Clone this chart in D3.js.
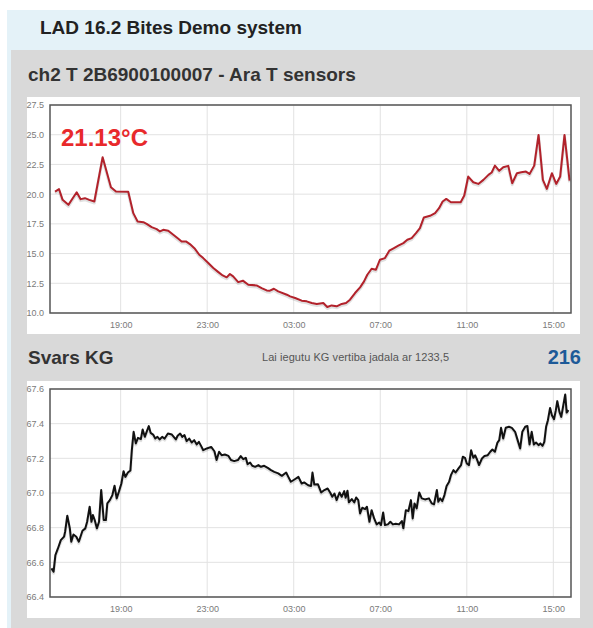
<!DOCTYPE html>
<html>
<head>
<meta charset="utf-8">
<script src="https://cdn.jsdelivr.net/npm/d3@7"></script>
<style>
  body { margin: 0; background: #fff; }
  text { font-family: "Liberation Sans", Arial, sans-serif; }
</style>
</head>
<body>
<script>
var w = 593;
var h = 628;

// ch2 temperature sensor
var tempTimes = ["15:58","16:09","16:19","16:35","16:47","16:58","17:09","17:21","17:33","17:47",
  "18:10","18:33","18:47","19:21","19:35","19:47","20:03","20:12","20:26","20:40",
  "20:49","20:58","21:12","21:26","21:40","21:49","22:01","22:12","22:26","22:38",
  "22:49","23:03","23:17","23:31","23:43","23:54","00:03","00:12","00:26","00:39",
  "00:54","01:17","01:31","01:45","01:54","02:05","02:17","02:41","02:50","03:04",
  "03:22","03:36","03:50","04:04","04:22","04:33","04:45","04:59","05:13","05:25",
  "05:36","05:50","06:04","06:15","06:24","06:36","06:48","06:59","07:13","07:25",
  "07:38","07:50","08:04","08:15","08:27","08:39","08:50","09:01","09:18","09:32",
  "09:43","09:53","10:03","10:16","10:43","10:53","11:04","11:18","11:32","11:46",
  "12:00","12:09","12:18","12:30","12:41","12:55","13:06","13:19","13:31","13:44",
  "13:54","14:07","14:19","14:31","14:42","14:56","15:08","15:19","15:31","15:45"];
var tempValues = [20.22,20.42,19.52,19.1,19.66,20.16,19.58,19.66,19.52,19.38,
  23.1,20.58,20.22,20.2,18.4,17.7,17.64,17.5,17.22,17.06,
  16.86,17.0,16.92,16.58,16.24,16.02,16.02,15.8,15.4,14.9,
  14.62,14.2,13.78,13.44,13.16,13.0,13.28,13.08,12.6,12.72,
  12.38,12.32,12.1,11.9,11.88,12.04,11.82,11.54,11.4,11.26,
  11.04,10.98,10.84,10.76,10.84,10.5,10.64,10.56,10.76,10.84,
  11.12,11.68,12.16,12.66,13.22,13.72,13.64,14.48,14.62,15.24,
  15.46,15.66,15.88,16.16,16.3,16.72,17.14,18.04,18.18,18.4,
  18.82,19.38,19.6,19.32,19.32,19.88,21.48,21.0,20.86,21.2,
  21.62,21.82,22.4,21.96,22.26,22.38,20.92,21.76,21.84,21.9,
  21.7,22.4,24.98,21.2,20.44,21.76,20.86,21.48,24.98,21.13];
var tempTicks = [10.0, 12.5, 15.0, 17.5, 20.0, 22.5, 25.0, 27.5];

// Svars KG
var kgTimes = ["15:48","15:54","15:59","16:06","16:14","16:23","16:26","16:32","16:39","16:43",
  "16:49","16:57","17:04","17:14","17:22","17:27","17:34","17:39","17:43","17:48",
  "17:54","18:00","18:06","18:13","18:19","18:23","18:30","18:37","18:43","18:49",
  "18:55","19:02","19:08","19:13","19:20","19:27","19:31","19:36","19:42","19:48",
  "19:56","20:01","20:07","20:12","20:18","20:23","20:30","20:36","20:42","20:48",
  "20:55","21:02","21:11","21:22","21:33","21:38","21:45","21:51","21:57","22:03",
  "22:10","22:17","22:24","22:31","22:37","22:43","22:49","22:59","23:11","23:20",
  "23:26","23:33","23:40","23:49","23:59","00:06","00:15","00:25","00:33","00:40",
  "00:47","00:52","00:59","01:05","01:13","01:22","01:29","01:38","01:48","01:57",
  "02:06","02:17","02:27","02:39","02:45","02:52","03:02","03:13","03:22","03:29",
  "03:40","03:48","03:52","03:57","04:07","04:16","04:25","04:34","04:41","04:47",
  "04:53","04:59","05:07","05:13","05:20","05:24","05:29","05:33","05:41","05:48",
  "05:53","05:59","06:04","06:10","06:18","06:23","06:30","06:36","06:43","06:50",
  "06:57","07:02","07:08","07:13","07:21","07:28","07:35","07:43","07:52","08:00",
  "08:04","08:11","08:18","08:25","08:30","08:35","08:41","08:48","08:55","09:04",
  "09:15","09:23","09:29","09:37","09:41","09:46","09:52","09:58","10:04","10:11",
  "10:16","10:23","10:29","10:37","10:44","10:49","10:55","11:00","11:06","11:12",
  "11:18","11:23","11:28","11:34","11:42","11:49","11:58","12:05","12:11","12:18",
  "12:25","12:30","12:35","12:41","12:48","12:57","13:05","13:14","13:21","13:28",
  "13:34","13:42","13:48","13:54","14:00","14:06","14:12","14:19","14:24","14:30",
  "14:35","14:40","14:45","14:51","14:56","15:02","15:07","15:11","15:17","15:22",
  "15:28","15:33","15:37","15:42"];
var kgValues = [66.565,66.546,66.642,66.68,66.728,66.748,66.777,66.869,66.796,66.719,
  66.761,66.748,66.719,66.782,66.796,66.834,66.921,66.834,66.873,66.844,
  66.796,66.834,67.017,66.844,66.844,66.94,66.959,66.988,67.042,66.969,
  67.007,67.055,67.126,67.093,67.118,67.13,67.247,67.353,67.286,67.318,
  67.311,67.366,67.324,67.353,67.386,67.347,67.337,67.314,67.324,67.309,
  67.324,67.314,67.343,67.337,67.309,67.33,67.343,67.324,67.334,67.299,
  67.314,67.291,67.305,67.28,67.295,67.272,67.247,67.257,67.266,67.241,
  67.19,67.238,67.218,67.222,67.214,67.19,67.184,67.19,67.213,67.195,
  67.203,67.166,67.176,67.157,67.151,67.161,67.151,67.157,67.145,67.132,
  67.122,67.113,67.099,67.118,67.093,67.065,67.078,67.093,67.055,67.061,
  67.045,67.04,67.118,67.049,67.051,67.003,67.017,67.026,67.003,66.978,
  66.997,66.959,67.003,66.978,67.011,66.972,67.013,66.946,66.965,66.946,
  66.974,66.959,66.882,66.915,66.907,66.921,66.834,66.901,66.853,66.819,
  66.83,66.815,66.888,66.815,66.819,66.834,66.819,66.823,66.819,66.838,
  66.796,66.901,66.895,66.959,66.853,66.94,66.911,67.003,66.969,66.963,
  66.969,66.94,66.934,67.017,66.949,66.969,66.953,66.988,67.04,67.065,
  67.103,67.132,67.118,67.142,67.161,67.209,67.203,67.17,67.161,67.247,
  67.203,67.218,67.195,67.161,67.199,67.213,67.218,67.238,67.251,67.238,
  67.291,67.305,67.376,67.314,67.376,67.382,67.376,67.353,67.305,67.257,
  67.353,67.382,67.387,67.28,67.353,67.28,67.291,67.276,67.286,67.272,
  67.295,67.382,67.42,67.491,67.449,67.426,67.478,67.53,67.468,67.439,
  67.51,67.568,67.464,67.478];
var kgTicks = [66.4, 66.6, 66.8, 67.0, 67.2, 67.4, 67.6];

var timeTicks = ["19:00","23:00","03:00","07:00","11:00","15:00"];
var timeStart = "15:44";
var timeEnd = "15:49";   // next day

// "HH:MM" list -> dates, next day once the clock goes back
function toDates(list) {
  var prev = -1, day = 0;
  return list.map(function(s) {
    var p = s.split(":");
    var m = +p[0] * 60 + +p[1];
    if (m < prev) { day += 1; }
    prev = m;
    return new Date(2020, 0, 1 + day, +p[0], +p[1]);
  });
}

var svg = d3.select("body")
            .append("svg")
              .attr("width", w)
              .attr("height", h);

svg.append("rect").attr("x", 7).attr("y", 10).attr("width", w - 7).attr("height", h - 10)
   .attr("fill", "#e4f2f8");
svg.append("rect").attr("x", 11).attr("y", 50).attr("width", w - 11).attr("height", h - 50)
   .attr("fill", "#d9d9d9");

svg.append("text").text("LAD 16.2 Bites Demo system")
   .attr("x", 40).attr("y", 34)
   .attr("font-size", "19px").attr("font-weight", "bold").attr("fill", "#222");

svg.append("text").text("ch2 T 2B6900100007 - Ara T sensors")
   .attr("x", 28).attr("y", 81)
   .attr("font-size", "19px").attr("font-weight", "bold").attr("fill", "#333");

svg.append("text").text("Svars KG")
   .attr("x", 28).attr("y", 364)
   .attr("font-size", "19px").attr("font-weight", "bold").attr("fill", "#333");

svg.append("text").text("Lai iegutu KG vertiba jadala ar 1233,5")
   .attr("x", 449).attr("y", 361).attr("text-anchor", "end")
   .attr("font-size", "11px").attr("fill", "#555").attr("textLength", 187);

svg.append("text").text("216")
   .attr("x", 581).attr("y", 364).attr("text-anchor", "end")
   .attr("font-size", "20px").attr("font-weight", "bold").attr("fill", "#1d5a98");

function drawChart(top, times, values, yTicks, color, yFmt) {
  var card = { x: 27, y: top, w: 553, h: 237 };
  var plot = { x0: 50, x1: 571, y0: top + 8, y1: top + 216 };

  svg.append("rect").attr("x", card.x).attr("y", card.y)
     .attr("width", card.w).attr("height", card.h).attr("fill", "#fff");

  var t0 = toDates([timeStart])[0];
  var t1 = d3.timeDay.offset(toDates([timeEnd])[0], 1);
  var x = d3.scaleTime().domain([t0, t1]).range([plot.x0, plot.x1]);
  var y = d3.scaleLinear().domain(d3.extent(yTicks)).range([plot.y1, plot.y0]);
  var tickDates = toDates(timeTicks);
  var pts = toDates(times).map(function(d, i) { return [d, values[i]]; });

  var g = svg.append("g");

  // grid
  g.selectAll(".hg").data(yTicks).enter().append("line")
    .attr("x1", plot.x0).attr("x2", plot.x1)
    .attr("y1", function(d) { return y(d); }).attr("y2", function(d) { return y(d); })
    .attr("stroke", "#e2e2e2").attr("stroke-width", 1);
  g.selectAll(".vg").data(tickDates).enter().append("line")
    .attr("x1", function(d) { return x(d); }).attr("x2", function(d) { return x(d); })
    .attr("y1", plot.y0).attr("y2", plot.y1)
    .attr("stroke", "#e2e2e2").attr("stroke-width", 1);

  // axes labels (d3 axes, domain/ticks hidden)
  var yAxis = g.append("g").attr("transform", "translate(" + (plot.x0 - 3) + ",0)")
    .call(d3.axisLeft(y).tickValues(yTicks).tickSize(0).tickFormat(yFmt));
  var xAxis = g.append("g").attr("transform", "translate(0," + (plot.y1 + 6) + ")")
    .call(d3.axisBottom(x).tickValues(tickDates).tickSize(0).tickFormat(d3.timeFormat("%H:%M")));
  [yAxis, xAxis].forEach(function(a) {
    a.select(".domain").remove();
    a.selectAll("text").attr("fill", "#7a7a7a").attr("font-size", "9px")
      .attr("font-family", "Liberation Sans, Arial, sans-serif");
  });

  var line = d3.line()
    .x(function(d) { return x(d[0]); })
    .y(function(d) { return y(d[1]); });

  // shadow then line
  g.append("path").datum(pts).attr("d", line)
    .attr("transform", "translate(0,1.5)")
    .attr("fill", "none").attr("stroke", "rgba(0,0,0,0.12)").attr("stroke-width", 3)
    .attr("stroke-linejoin", "round");
  g.append("path").datum(pts).attr("d", line)
    .attr("fill", "none").attr("stroke", color).attr("stroke-width", 2)
    .attr("stroke-linejoin", "round");

  g.append("rect").attr("x", plot.x0).attr("y", plot.y0)
    .attr("width", plot.x1 - plot.x0).attr("height", plot.y1 - plot.y0)
    .attr("fill", "none").attr("stroke", "#555").attr("stroke-width", 1.5);
}

drawChart(97, tempTimes, tempValues, tempTicks, "#b2222b", d3.format(".1f"));
drawChart(381, kgTimes, kgValues, kgTicks, "#111", d3.format(".1f"));

svg.append("text").text(tempValues[tempValues.length - 1].toFixed(2) + "°C")
   .attr("x", 61).attr("y", 146)
   .attr("font-size", "24px").attr("font-weight", "bold").attr("fill", "#e8292b");
</script>
</body>
</html>
